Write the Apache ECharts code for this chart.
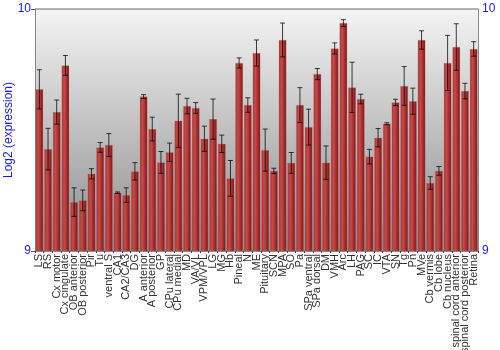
<!DOCTYPE html>
<html>
<head>
<meta charset="utf-8">
<script src="https://cdn.jsdelivr.net/npm/echarts@6/dist/echarts.min.js"></script>
<style>html,body{margin:0;padding:0;background:#fff}#c{width:500px;height:350px}</style>
</head>
<body>
<div id="c"></div>
<script>
var categories = ["LS","RS","Cx motor","Cx cingulate","OB anterior","OB posterior","Pir","Tu","ventral S","CA1","CA2/CA3","DG","A anterior","A posterior","GP","CPu lateral","CPu medial","MD","VA/VL","VPM/VPL","LG","MG","Hb","Pineal","N","ME","Pituitary","SCN","MPA","SO","Pa","SPa ventral","SPa dorsal","DM","VMH","Arc","LH","PAG","SC","IC","VTA","SN","Tg","Pn","MVe","Cb vermis","Cb lobe","Cb nucleus","spinal cord anterior","spinal cord posterior","Retina"];
var means = [9.668,9.421,9.574,9.767,9.202,9.209,9.319,9.428,9.438,9.241,9.231,9.329,9.638,9.504,9.366,9.408,9.538,9.599,9.591,9.464,9.545,9.443,9.300,9.777,9.603,9.818,9.417,9.331,9.872,9.364,9.603,9.512,9.731,9.365,9.837,9.942,9.676,9.628,9.390,9.468,9.526,9.614,9.682,9.619,9.872,9.281,9.331,9.777,9.843,9.661,9.835];
var errors = [0.081,0.086,0.050,0.041,0.059,0.043,0.021,0.020,0.047,0.003,0.030,0.036,0.008,0.049,0.045,0.038,0.110,0.032,0.022,0.052,0.083,0.036,0.074,0.021,0.030,0.054,0.087,0.011,0.070,0.043,0.072,0.074,0.023,0.069,0.023,0.014,0.104,0.020,0.030,0.038,0.004,0.013,0.080,0.054,0.038,0.026,0.018,0.114,0.096,0.032,0.030];
var yTicks = [9, 10];

var errData = means.map(function(m, i){ return [i, m - errors[i], m + errors[i]]; });
var chart = echarts.init(document.getElementById('c'), null, {renderer:'canvas'});
var blue = '#1a1aff';
chart.setOption({
  animation: false,
  grid: {left: 35, right: 22, top: 9, bottom: 99, show: true, borderWidth: 0, containLabel:false, outerBoundsMode:'none',
    backgroundColor: new echarts.graphic.LinearGradient(0,0,0,1,[{offset:0,color:'#f4f4f4'},{offset:1,color:'#8c8c8c'}])},
  xAxis: {type:'category', data: categories,
    axisLine:{show:true, lineStyle:{color:'#888'}},
    axisTick:{show:true, length:2, lineStyle:{color:'#444'}},
    axisLabel:{rotate:90, interval:0, fontSize:11, fontFamily:'Liberation Sans, Arial', color:'#333', margin:3}},
  yAxis: [
    {type:'value', min:9, max:10, interval:1, name:'Log2 (expression)', nameLocation:'middle', nameGap:20, nameMoveOverlap:false,
     nameTextStyle:{color:blue, fontSize:12, fontFamily:'Liberation Sans, Arial'},
     axisLine:{show:true, lineStyle:{color:'#888'}}, axisTick:{show:true, length:4, lineStyle:{color:'#555'}},
     splitLine:{show:false},
     axisLabel:{color:blue, fontSize:12, fontFamily:'Liberation Sans, Arial', margin:4,
       formatter:function(v){return yTicks.indexOf(v)>=0 ? String(v) : '';}}},
    {type:'value', min:9, max:10, interval:1, position:'right',
     axisLine:{show:true, lineStyle:{color:'#888'}}, axisTick:{show:false},
     splitLine:{show:false},
     axisLabel:{color:blue, fontSize:12, fontFamily:'Liberation Sans, Arial', margin:4,
       formatter:function(v){return yTicks.indexOf(v)>=0 ? String(v) : '';}}}
  ],
  graphic: [{type:'line', shape:{x1:35, y1:9, x2:478, y2:9}, style:{stroke:'#666', lineWidth:1}, z:100}],
  series: [
    {type:'bar', data: means, barCategoryGap:'12%',
     itemStyle:{color:new echarts.graphic.LinearGradient(0,0,1,0,[
       {offset:0,color:'#a33232'},{offset:0.35,color:'#c64a4a'},{offset:0.7,color:'#a52c2c'},{offset:1,color:'#741414'}]),
       borderColor:'rgba(200,120,120,0.5)', borderWidth:0.5}},
    {type:'custom', data: errData, z:10,
     renderItem:function(params, api){
       var x = api.value(0);
       var lo = api.coord([x, api.value(1)]);
       var hi = api.coord([x, api.value(2)]);
       var hw = 2.5;
       var st = {stroke:'rgba(0,0,0,0.75)', lineWidth:1};
       return {type:'group', children:[
         {type:'line', shape:{x1:lo[0], y1:lo[1], x2:hi[0], y2:hi[1]}, style:st},
         {type:'line', shape:{x1:lo[0]-hw, y1:lo[1], x2:lo[0]+hw, y2:lo[1]}, style:st},
         {type:'line', shape:{x1:hi[0]-hw, y1:hi[1], x2:hi[0]+hw, y2:hi[1]}, style:st}
       ]};
     }}
  ]
});
</script>
</body>
</html>
